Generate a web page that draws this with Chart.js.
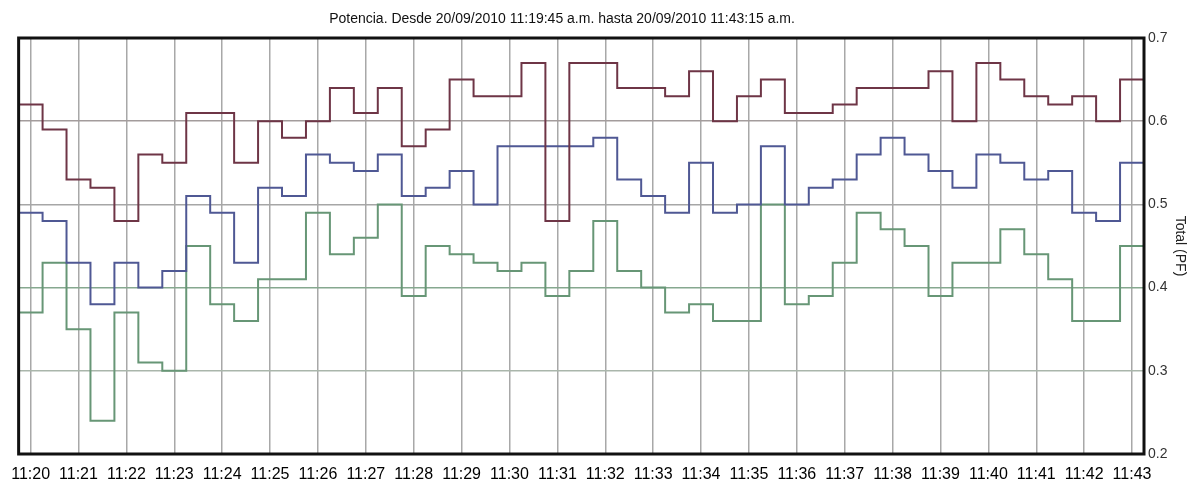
<!DOCTYPE html>
<html>
<head>
<meta charset="utf-8">
<script src="https://cdn.jsdelivr.net/npm/chart.js@4.4.0/dist/chart.umd.min.js"></script>
<style>
  html, body { margin: 0; padding: 0; background: #ffffff; }
  #wrap { width: 1198px; height: 484px; position: relative; }
</style>
</head>
<body>
<div id="wrap"><canvas id="pf"></canvas></div>
<script>
// Sample start times (30 s interval); last entry closes the final interval
const sampleTimes = [
  "11:19:45","11:20:15","11:20:45","11:21:15","11:21:45","11:22:15","11:22:45","11:23:15",
  "11:23:45","11:24:15","11:24:45","11:25:15","11:25:45","11:26:15","11:26:45","11:27:15",
  "11:27:45","11:28:15","11:28:45","11:29:15","11:29:45","11:30:15","11:30:45","11:31:15",
  "11:31:45","11:32:15","11:32:45","11:33:15","11:33:45","11:34:15","11:34:45","11:35:15",
  "11:35:45","11:36:15","11:36:45","11:37:15","11:37:45","11:38:15","11:38:45","11:39:15",
  "11:39:45","11:40:15","11:40:45","11:41:15","11:41:45","11:42:15","11:42:45"
];
const endTime = "11:43:15";

// Power factor per phase
const pfTop = [
  0.62,0.59,0.53,0.52,0.48,0.56,0.55,0.61,0.61,0.55,0.60,0.58,0.60,0.64,0.61,0.64,
  0.57,0.59,0.65,0.63,0.63,0.67,0.48,0.67,0.67,0.64,0.64,0.63,0.66,0.60,0.63,0.65,
  0.61,0.61,0.62,0.64,0.64,0.64,0.66,0.60,0.67,0.65,0.63,0.62,0.63,0.60,0.65
];
const pfMid = [
  0.49,0.48,0.43,0.38,0.43,0.40,0.42,0.51,0.49,0.43,0.52,0.51,0.56,0.55,0.54,0.56,
  0.51,0.52,0.54,0.50,0.57,0.57,0.57,0.57,0.58,0.53,0.51,0.49,0.55,0.49,0.50,0.57,
  0.50,0.52,0.53,0.56,0.58,0.56,0.54,0.52,0.56,0.55,0.53,0.54,0.49,0.48,0.55
];
const pfLow = [
  0.37,0.43,0.35,0.24,0.37,0.31,0.30,0.45,0.38,0.36,0.41,0.41,0.49,0.44,0.46,0.50,
  0.39,0.45,0.44,0.43,0.42,0.43,0.39,0.42,0.48,0.42,0.40,0.37,0.38,0.36,0.36,0.50,
  0.38,0.39,0.43,0.49,0.47,0.45,0.39,0.43,0.43,0.47,0.44,0.41,0.36,0.36,0.45
];

const minuteLabels = [
  "11:20","11:21","11:22","11:23","11:24","11:25","11:26","11:27","11:28","11:29","11:30","11:31",
  "11:32","11:33","11:34","11:35","11:36","11:37","11:38","11:39","11:40","11:41","11:42","11:43"
];
const pfTicks = [0.2, 0.3, 0.4, 0.5, 0.6, 0.7];

const titleText = "Potencia. Desde 20/09/2010 11:19:45 a.m. hasta 20/09/2010 11:43:15 a.m.";

// seconds relative to the first labelled minute
function toSec(t) {
  const p = t.split(":").map(Number);
  const base = minuteLabels[0].split(":").map(Number);
  return (p[0] * 3600 + p[1] * 60 + (p[2] || 0)) - (base[0] * 3600 + base[1] * 60);
}
function stepPoints(values) {
  const pts = sampleTimes.map((t, i) => ({ x: toSec(t), y: values[i] }));
  pts.push({ x: toSec(endTime), y: values[values.length - 1] });
  return pts;
}

const gridByValue = { 0.3: "#aab6ab", 0.4: "#86a88f", 0.5: "#a6a6a6", 0.6: "#a39c9c" };

const frame = {
  id: "frame",
  afterDatasetsDraw(chart) {
    const a = chart.chartArea, ctx = chart.ctx;
    ctx.save();
    ctx.strokeStyle = "#111111";
    ctx.lineWidth = 3;
    ctx.strokeRect(a.left, a.top, a.right - a.left, a.bottom - a.top);
    ctx.restore();
  }
};
const caption = {
  id: "caption",
  afterDraw(chart) {
    const ctx = chart.ctx;
    ctx.save();
    ctx.font = "14px 'Liberation Sans', Arial, sans-serif";
    ctx.fillStyle = "#111111";
    ctx.textAlign = "center";
    ctx.textBaseline = "middle";
    ctx.fillText(titleText, 562, 19);
    ctx.restore();
  }
};

new Chart(document.getElementById("pf"), {
  type: "line",
  data: {
    datasets: [
      { label: "PF A", data: stepPoints(pfTop), borderColor: "#6e3546", borderWidth: 2, stepped: true, pointRadius: 0 },
      { label: "PF B", data: stepPoints(pfMid), borderColor: "#4f5894", borderWidth: 2, stepped: true, pointRadius: 0 },
      { label: "PF C", data: stepPoints(pfLow), borderColor: "#679676", borderWidth: 2, stepped: true, pointRadius: 0 }
    ]
  },
  options: {
    responsive: true,
    maintainAspectRatio: false,
    animation: false,
    layout: { padding: { top: 38, left: 17, right: 0, bottom: 0 } },
    plugins: { legend: { display: false }, tooltip: { enabled: false }, title: { display: false } },
    scales: {
      x: {
        type: "linear",
        min: toSec(sampleTimes[0]),
        max: toSec(endTime),
        afterBuildTicks(s) { s.ticks = minuteLabels.map((_, k) => ({ value: k * 60 })); },
        afterFit(s) { s.height = 30; },
        ticks: {
          autoSkip: false,
          maxRotation: 0,
          padding: 11,
          color: "#000000",
          font: { family: "'Liberation Sans', Arial, sans-serif", size: 16 },
          callback: (v) => minuteLabels[Math.round(v / 60)]
        },
        grid: { color: "#a8a8a8", lineWidth: 1.5, drawTicks: false },
        border: { display: false }
      },
      y: {
        position: "right",
        min: 0.2,
        max: 0.7,
        afterBuildTicks(s) { s.ticks = pfTicks.map(v => ({ value: v })); },
        afterFit(s) { s.width = 54; },
        ticks: {
          padding: 4,
          color: "#333333",
          font: { family: "'Liberation Sans', Arial, sans-serif", size: 14 },
          callback: (v) => Number(v).toFixed(1)
        },
        grid: {
          drawTicks: false,
          lineWidth: 1.5,
          color: (c) => gridByValue[Math.round(c.tick.value * 10) / 10] || "rgba(0,0,0,0)"
        },
        border: { display: false },
        title: {
          display: true,
          text: "Total (PF)",
          color: "#222222",
          font: { family: "'Liberation Sans', Arial, sans-serif", size: 14 },
          padding: { top: 10, bottom: 0 }
        }
      }
    }
  },
  plugins: [frame, caption]
});
</script>
</body>
</html>
